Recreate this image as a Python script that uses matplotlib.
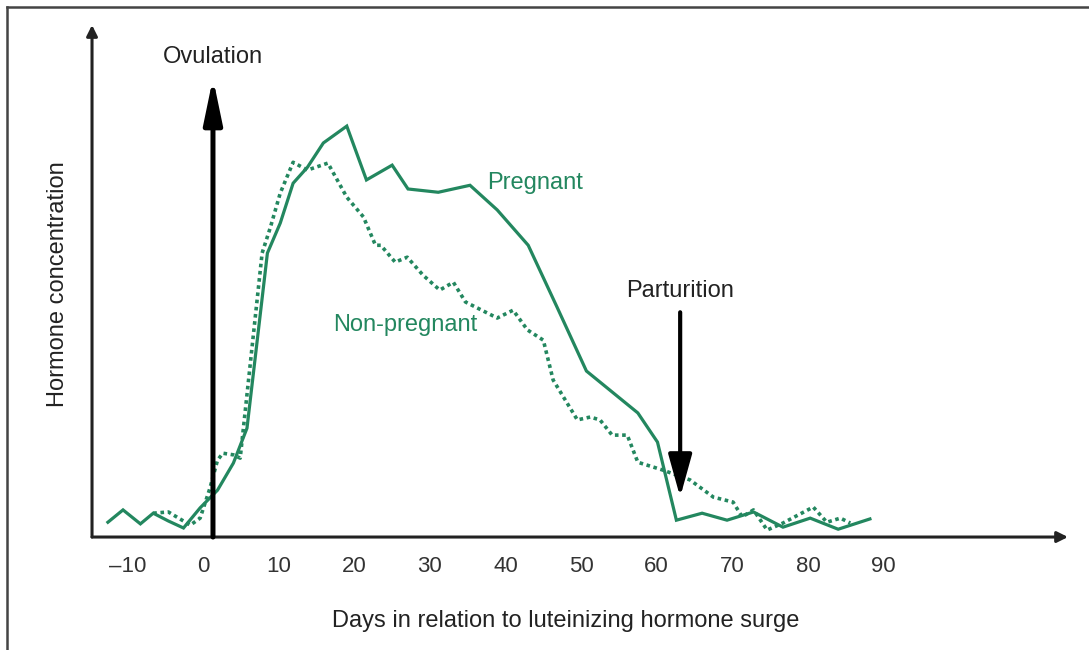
import matplotlib.pyplot as plt
from matplotlib.lines import Line2D

plt.rcParams['font.family'] = ['Liberation Sans', 'DejaVu Sans']

# days relative to LH surge and relative hormone concentration
preg_days = [-12.6, -10.6, -8.3, -6.6, -4.6, -2.6, -0.4, 1.9, 4.0, 5.8, 8.5, 10.2, 11.9,
             13.8, 15.9, 19.0, 21.6, 25.0, 27.1, 31.1, 35.3, 38.9, 43.0, 46.8, 50.7,
             57.5, 60.1, 62.6, 66.0, 69.3, 72.8, 76.7, 80.3, 84.0, 88.2]
preg_conc = [3.6, 6.6, 3.2, 5.8, 3.9, 2.2, 7.1, 11.4, 18.0, 26.5, 69.1, 76.4, 86.1,
             90.0, 95.9, 100.0, 86.9, 90.5, 84.7, 83.9, 85.6, 79.6, 71.0, 56.0, 40.4,
             30.2, 23.1, 4.1, 5.8, 4.1, 6.1, 2.4, 4.6, 1.9, 4.4]

nonpreg_days = [-6.6, -4.6, -1.7, -0.4, 0.9, 1.9, 2.6, 4.0, 4.9, 7.8, 8.9, 10.2, 11.9,
                13.8, 16.5, 19.0, 21.2, 22.8, 23.5, 25.4, 27.0, 29.1, 31.3, 33.1, 34.7,
                38.9, 41.0, 42.9, 45.0, 46.3, 49.5, 51.2, 52.5, 54.1, 56.1, 57.5, 60.8,
                64.4, 67.5, 70.1, 71.3, 72.8, 74.6, 76.7, 80.7, 82.5, 84.3, 85.6]
nonpreg_conc = [5.8, 6.1, 2.9, 4.6, 11.9, 18.7, 20.4, 20.0, 19.2, 69.1, 75.4, 83.7, 91.2,
                89.3, 91.0, 82.7, 77.9, 71.0, 71.0, 66.9, 68.1, 63.7, 60.1, 62.0, 57.2,
                53.3, 55.2, 50.4, 47.9, 38.2, 28.5, 29.2, 28.5, 24.8, 24.8, 18.2, 16.3,
                13.9, 9.7, 8.5, 4.9, 6.6, 1.7, 3.4, 7.3, 3.6, 4.6, 3.4]

x_ticks = [-10, 0, 10, 20, 30, 40, 50, 60, 70, 80, 90]

ovulation_day = 1.3
parturition_day = 63.1

green = '#23875f'
ink = '#222222'

fig = plt.figure(figsize=(10.89, 6.5), dpi=100)
ax = fig.add_axes([0.0845, 0.1738, 0.8962, 0.7877])
ax.set_xlim(-14.7, 114.4)
ax.set_ylim(0, 124.6)

for s in ax.spines.values():
    s.set_visible(False)
ax.set_yticks([])
ax.set_xticks(x_ticks)
ax.set_xticklabels([f'\u2013{-t}' if t < 0 else str(t) for t in x_ticks])
ax.tick_params(axis='x', length=0, pad=14, labelsize=16, labelcolor='#333333')

# axis arrows
arrow_axis = dict(arrowstyle='-|>', lw=2.2, color=ink, mutation_scale=16, shrinkA=0, shrinkB=0)
ax.annotate('', xy=(1, 0), xytext=(0, 0), xycoords='axes fraction', arrowprops=arrow_axis)
ax.annotate('', xy=(0, 1), xytext=(0, 0), xycoords='axes fraction', arrowprops=arrow_axis)

# curves
ax.plot(preg_days, preg_conc, color=green, lw=2.3, solid_joinstyle='miter')
ax.plot(nonpreg_days, nonpreg_conc, color=green, lw=2.6, linestyle=(0, (1.0, 1.0)))

# event arrows
ax.annotate('', xy=(ovulation_day, 111.7), xytext=(ovulation_day, 0),
            arrowprops=dict(arrowstyle='-|>,head_length=1.35,head_width=0.28', lw=3.6,
                            color='black', shrinkA=0, shrinkB=0, mutation_scale=20))
ax.text(ovulation_day, 116.8, 'Ovulation', ha='center', va='center', fontsize=17, color=ink)

ax.annotate('', xy=(parturition_day, 9.7), xytext=(parturition_day, 54.7),
            arrowprops=dict(arrowstyle='-|>,head_length=1.3,head_width=0.36', lw=3,
                            color='black', shrinkA=0, shrinkB=0, mutation_scale=20))
ax.text(parturition_day, 59.9, 'Parturition', ha='center', va='center', fontsize=17, color=ink)

ax.text(37.6, 86.1, 'Pregnant', ha='left', va='center', fontsize=17, color=green)
ax.text(17.2, 51.6, 'Non-pregnant', ha='left', va='center', fontsize=17, color=green)

fig.text(58 / 1089, 1 - 284 / 650, 'Hormone concentration', rotation=90,
         ha='center', va='center', fontsize=17, color=ink)
fig.text(566 / 1089, 1 - 621 / 650, 'Days in relation to luteinizing hormone surge',
         ha='center', va='center', fontsize=17, color=ink)

# thin frame round the figure
fig.add_artist(Line2D([7 / 1089, 1], [1 - 7 / 650, 1 - 7 / 650], color='#444444', lw=1.8))
fig.add_artist(Line2D([7 / 1089, 7 / 1089], [0, 1 - 7 / 650], color='#444444', lw=1.8))

fig.savefig('out.png', dpi=100)
